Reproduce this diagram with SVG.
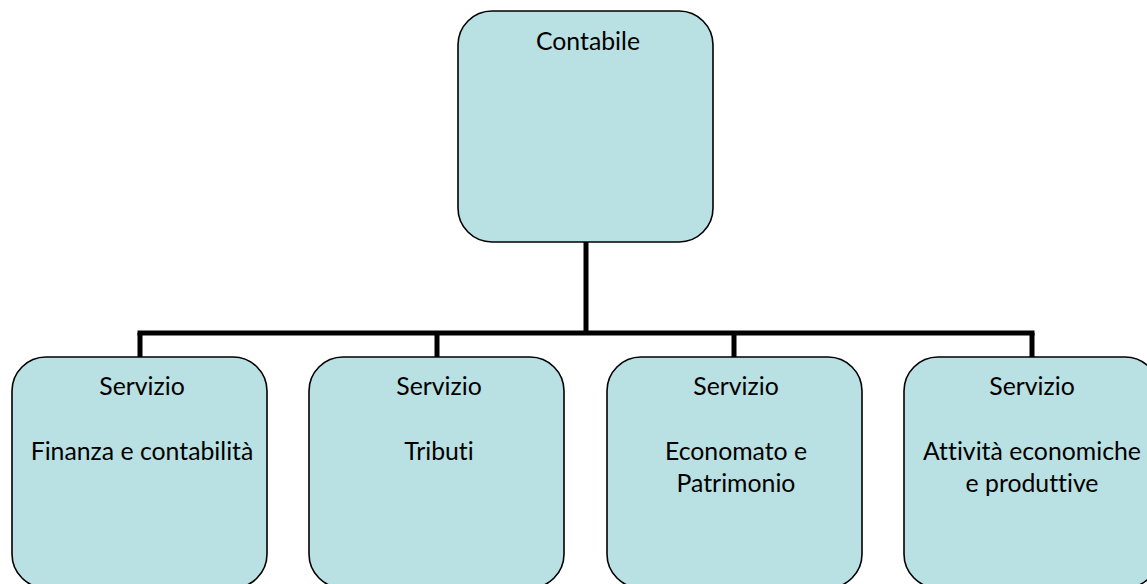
<svg xmlns="http://www.w3.org/2000/svg" width="1147" height="584" viewBox="0 0 1147 584">
<style>
.box{fill:#B9E0E3;stroke:#000;stroke-width:1.6}
.lbl{font-family:Lato,"Open Sans","Liberation Sans",sans-serif;font-size:24.8px;fill:#000;text-anchor:middle;font-variant-ligatures:none;font-feature-settings:"liga" 0,"clig" 0}
.conn{stroke:#000;stroke-width:5;fill:none}
</style>
<rect width="1147" height="584" fill="#fff"/>
<g id="connectors">
<path class="conn" d="M586 242V335"/>
<path class="conn" d="M137.5 333H1034.5"/>
<path class="conn" d="M140 333V357M437 333V357M734 333V357M1032 333V357"/>
</g>
<g id="contabile">
<rect class="box" x="458" y="11" width="255" height="231" rx="34"/>
<text class="lbl" x="588" y="50">Contabile</text>
</g>
<g id="finanza">
<rect class="box" x="12" y="357" width="255" height="231" rx="34"/>
<text class="lbl" x="142" y="395">Servizio</text>
<text class="lbl" x="142" y="460">Finanza e contabilità</text>
</g>
<g id="tributi">
<rect class="box" x="309" y="357" width="255" height="231" rx="34"/>
<text class="lbl" x="439" y="395">Servizio</text>
<text class="lbl" x="439" y="460">Tributi</text>
</g>
<g id="economato">
<rect class="box" x="607" y="357" width="255" height="231" rx="34"/>
<text class="lbl" x="736" y="395">Servizio</text>
<text class="lbl" x="736" y="460">Economato e</text>
<text class="lbl" x="736" y="492">Patrimonio</text>
</g>
<g id="attivita">
<rect class="box" x="904" y="357" width="255" height="231" rx="34"/>
<text class="lbl" x="1032" y="395">Servizio</text>
<text class="lbl" x="1032" y="460">Attività economiche</text>
<text class="lbl" x="1032" y="492">e produttive</text>
</g>
</svg>
